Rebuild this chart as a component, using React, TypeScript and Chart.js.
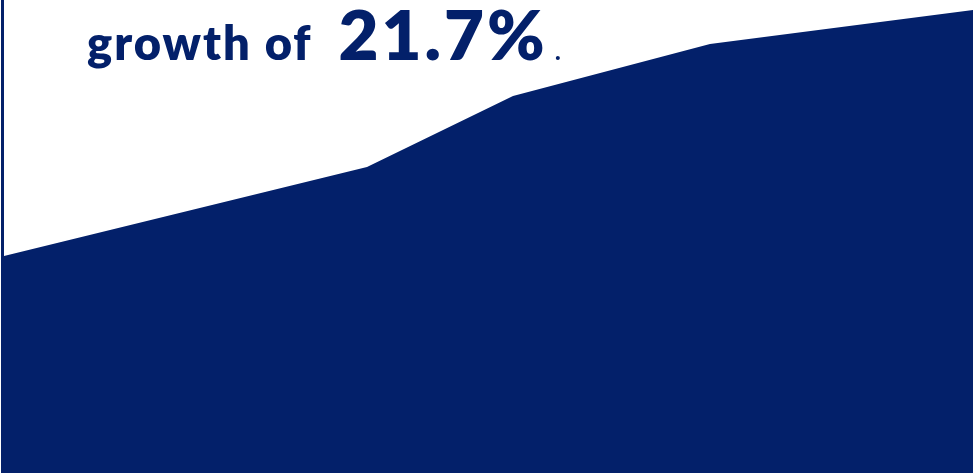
import React, { useEffect, useRef } from "react";
import { Chart, registerables } from "chart.js";

Chart.register(...registerables);

const NAVY = "#03206a";

// x positions along the horizontal axis (arbitrary time units) and values
const periods = [0, 363, 509, 706, 969];
const values = [217, 306, 377, 429, 463];
const yMin = 0;
const yMax = 473;

const headlineLead = "growth of";
const headlineFigure = "21.7%";
const headlineTail = ".";

export default function App() {
  const ref = useRef<HTMLCanvasElement | null>(null);

  useEffect(() => {
    document.body.style.margin = "0";
    if (!ref.current) return;
    const chart = new Chart(ref.current, {
      type: "line",
      data: {
        datasets: [
          {
            data: periods.map((p, i) => ({ x: p, y: values[i] })),
            fill: "origin",
            backgroundColor: NAVY,
            borderColor: NAVY,
            borderWidth: 0,
            pointRadius: 0,
            tension: 0,
          },
        ],
      },
      options: {
        animation: false,
        responsive: false,
        maintainAspectRatio: false,
        layout: { padding: 0 },
        plugins: { legend: { display: false }, tooltip: { enabled: false } },
        scales: {
          x: { type: "linear", display: false, min: periods[0], max: periods[periods.length - 1] },
          y: { display: false, min: yMin, max: yMax },
        },
      },
    });
    return () => chart.destroy();
  }, []);

  return (
    <div style={{ position: "fixed", left: 0, top: 0, width: 973, height: 473, background: "#fff", overflow: "hidden" }}>
      <div style={{ position: "absolute", left: 1, top: 0, width: 3, height: 473, background: NAVY }} />
      <canvas ref={ref} width={969} height={473} style={{ position: "absolute", left: 4, top: 0, width: 969, height: 473 }} />
      <div
        style={{
          position: "absolute",
          left: 87,
          top: -1,
          display: "flex",
          alignItems: "baseline",
          color: NAVY,
          fontFamily: "Lato, 'Noto Sans', sans-serif",
          fontWeight: 700,
          whiteSpace: "nowrap",
          lineHeight: 1,
        }}
      >
        <span style={{ fontSize: 47, letterSpacing: 2, fontWeight: 800 }}>{headlineLead}</span>
        <span style={{ fontSize: 69, letterSpacing: 3, marginLeft: 26, fontWeight: 800 }}>{headlineFigure}</span>
        <span style={{ fontSize: 26, marginLeft: 7 }}>{headlineTail}</span>
      </div>
    </div>
  );
}
